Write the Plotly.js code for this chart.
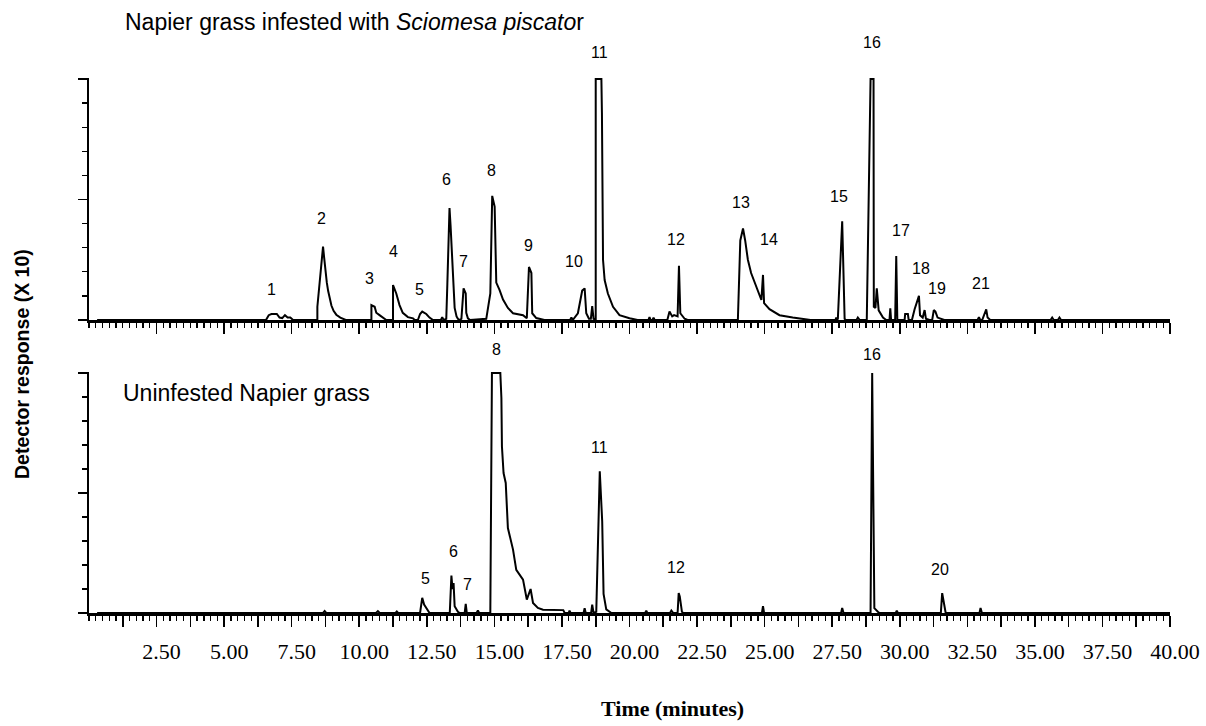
<!DOCTYPE html>
<html>
<head>
<meta charset="utf-8">
<script src="https://cdn.plot.ly/plotly-3.0.1.min.js"></script>
<style>
html,body{margin:0;padding:0;background:#fff;}
#chart{width:1206px;height:726px;}
</style>
</head>
<body>
<div id="chart"></div>
<script>
// ---------- DATA ----------
// Upper chromatogram: Napier grass infested with Sciomesa piscator
const topTime = [0.3, 6.55, 6.65, 6.75, 6.95, 7.05, 7.15, 7.25, 7.35, 7.45, 7.55,
  8.45, 8.45, 8.66, 8.70, 8.75, 8.80, 8.85, 8.90, 8.97, 9.05, 9.15, 9.30, 9.40, 9.50,
  10.45, 10.45, 10.57, 10.63, 10.75, 10.94, 11.0,
  11.25, 11.25, 11.37, 11.49, 11.61, 11.80, 11.99, 12.05,
  12.17, 12.25, 12.33, 12.48, 12.60, 12.73,
  13.02, 13.07, 13.12,
  13.22, 13.26, 13.30, 13.34, 13.38, 13.44, 13.49, 13.53, 13.60, 13.65, 13.72,
  13.78, 13.86, 13.94, 13.96, 14.02, 14.10,
  14.70, 14.85, 14.92, 15.01, 15.05, 15.07, 15.19, 15.32, 15.50, 15.69, 16.06, 16.20,
  16.28, 16.37, 16.40, 16.55, 16.74, 16.85,
  17.80, 17.85, 17.90,
  18.09, 18.25, 18.34, 18.40, 18.50, 18.57, 18.62, 18.67,
  18.75, 18.75, 18.96, 18.98, 19.02, 19.08, 19.20, 19.39, 19.63, 20.00, 20.30,
  20.70, 20.74, 20.78, 20.85, 20.89, 20.93,
  21.40, 21.48, 21.58, 21.65, 21.78, 21.83, 21.88, 22.04, 22.15,
  24.01, 24.10, 24.20, 24.28, 24.38, 24.50, 24.69, 24.88, 24.94, 24.98, 25.18, 25.55, 26.04, 26.54, 26.70,
  27.62, 27.65, 27.68, 27.71, 27.87, 27.96, 28.00,
  28.40, 28.45, 28.52,
  28.78, 28.92, 29.03, 29.04, 29.10, 29.15, 29.22, 29.38, 29.50,
  29.62, 29.65, 29.68, 29.83, 29.87, 29.91, 30.00,
  30.18, 30.20, 30.30, 30.33, 30.45,
  30.55, 30.71, 30.75, 30.85, 30.92, 30.97, 31.10,
  31.20, 31.26, 31.32, 31.40, 31.54, 31.65,
  32.88, 32.93, 32.98, 33.05, 33.20, 33.25, 33.35,
  35.58, 35.64, 35.70, 35.85, 35.91, 35.97, 40.0];
const topResp = [0, 0, 0.2, 0.25, 0.25, 0.1, 0.08, 0.2, 0.1, 0.1, 0,
  0, 0.55, 3.05, 2.6, 2.0, 1.55, 1.2, 0.9, 0.6, 0.38, 0.22, 0.1, 0.05, 0,
  0, 0.62, 0.55, 0.3, 0.2, 0.07, 0,
  0, 1.45, 1.1, 0.62, 0.3, 0.12, 0.07, 0,
  0, 0.25, 0.35, 0.25, 0.1, 0,
  0, 0.12, 0,
  0.05, 1.5, 3.6, 4.65, 3.9, 2.5, 1.3, 0.5, 0.15, 0.05, 0,
  0.05, 1.31, 1.1, 0.3, 0.07, 0,
  0.05, 1.1, 5.15, 4.7, 2.8, 1.55, 1.25, 0.85, 0.5, 0.28, 0.2, 0.07,
  2.2, 1.95, 0.28, 0.08, 0.03, 0,
  0, 0.1, 0,
  0.28, 1.22, 1.31, 0.28, 0.05, 0.05, 0.58, 0.05,
  0, 10, 10, 8.6, 2.5, 1.66, 1.1, 0.55, 0.2, 0.07, 0,
  0, 0.12, 0, 0, 0.1, 0,
  0, 0.35, 0.15, 0.2, 0.15, 2.25, 0.28, 0.05, 0,
  0, 3.3, 3.8, 3.3, 2.5, 1.95, 1.4, 0.83, 1.87, 0.7, 0.45, 0.2, 0.1, 0.03, 0,
  0, 0.1, 0, 0.05, 4.1, 0.05, 0,
  0, 0.1, 0,
  0, 10, 10, 0.55, 0.5, 1.31, 0.4, 0.1, 0,
  0, 0.48, 0, 0, 2.66, 0, 0,
  0, 0.25, 0.25, 0, 0,
  0.45, 1.0, 0.2, 0.1, 0.41, 0.05, 0,
  0, 0.41, 0.35, 0.1, 0.05, 0,
  0, 0.12, 0, 0, 0.44, 0.1, 0,
  0, 0.1, 0, 0, 0.1, 0, 0];

// Lower chromatogram: uninfested Napier grass
const bottomTime = [0.3, 8.66, 8.72, 8.78, 10.62, 10.69, 10.76, 11.34, 11.39, 11.44,
  12.25, 12.33, 12.40, 12.50, 12.60,
  13.35, 13.41, 13.45, 13.49, 13.53, 13.65, 13.72,
  13.90, 13.94, 13.98, 14.34, 14.39, 14.44,
  14.85, 14.91, 15.22, 15.26, 15.28, 15.34, 15.42, 15.50, 15.69, 15.81, 16.06, 16.20, 16.34, 16.43, 16.61, 16.80, 17.55, 17.60,
  17.75, 17.78, 17.82, 18.30, 18.34, 18.38, 18.58, 18.62, 18.67,
  18.77, 18.90, 18.99, 19.04, 19.14, 19.33,
  20.58, 20.62, 20.66, 21.50, 21.55, 21.62,
  21.78, 21.82, 21.86, 21.94, 22.00,
  24.90, 24.94, 24.98, 27.83, 27.87, 27.92,
  28.92, 28.98, 29.04, 29.06, 29.19, 29.25,
  29.85, 29.89, 29.93,
  31.52, 31.57, 31.62, 31.66, 31.70,
  32.95, 32.99, 33.04, 40.0];
const bottomResp = [0, 0, 0.08, 0, 0, 0.08, 0, 0, 0.06, 0,
  0, 0.63, 0.35, 0.2, 0,
  0, 1.56, 1.0, 1.25, 0.28, 0.05, 0,
  0, 0.38, 0, 0, 0.1, 0,
  0, 10, 10, 8.96, 6.94, 5.83, 5.42, 3.54, 2.64, 1.8, 1.39, 0.56, 1.0, 0.42, 0.21, 0.14, 0.12, 0,
  0, 0.1, 0, 0, 0.2, 0, 0, 0.35, 0,
  0.05, 5.9, 3.82, 0.8, 0.15, 0,
  0, 0.1, 0, 0, 0.1, 0,
  0, 0.83, 0.69, 0.05, 0,
  0, 0.28, 0, 0, 0.21, 0,
  0, 10, 1.67, 0.2, 0.05, 0,
  0, 0.1, 0,
  0, 0.83, 0.5, 0.42, 0,
  0, 0.21, 0, 0];

// Peak numbers and where their labels sit (time, response units)
const topPeakNum  = ['1','2','3','4','5','6','7','8','9','10','11','12','13','14','15','16','17','18','19','21'];
const topPeakTime = [6.77, 8.62, 10.38, 11.25, 12.23, 13.22, 13.86, 14.89, 16.28, 17.93, 18.89, 21.71, 24.11, 25.18, 27.75, 28.96, 30.03, 30.80, 31.37, 32.99];
const topPeakResp = [1.27, 4.22, 1.73, 2.86, 1.27, 5.81, 2.42, 6.22, 3.11, 2.42, 11.1, 3.35, 4.87, 3.35, 5.12, 11.5, 3.73, 2.15, 1.32, 1.52];

const bottomPeakNum  = ['5','6','7','8','11','12','16','20'];
const bottomPeakTime = [12.46, 13.47, 14.02, 15.09, 18.90, 21.71, 28.97, 31.50];
const bottomPeakResp = [1.45, 2.58, 1.2, 10.99, 6.9, 1.89, 10.75, 1.82];

// x tick labels (major ticks every 1.25 min, labelled every 2.5 min)
const majorTickVals = [1.25, 2.5, 3.75, 5, 6.25, 7.5, 8.75, 10, 11.25, 12.5, 13.75, 15, 16.25, 17.5, 18.75, 20,
  21.25, 22.5, 23.75, 25, 26.25, 27.5, 28.75, 30, 31.25, 32.5, 33.75, 35, 36.25, 37.5, 38.75, 40];
const majorTickText = ['', '2.50', '', '5.00', '', '7.50', '', '10.00', '', '12.50', '', '15.00', '', '17.50', '', '20.00',
  '', '22.50', '', '25.00', '', '27.50', '', '30.00', '', '32.50', '', '35.00', '', '37.50', '', '40.00'];

const topTitle = 'Napier grass infested with <i>Sciomesa piscato</i>r';
const bottomTitle = 'Uninfested Napier grass';
const xTitle = '<b>Time (minutes)</b>';
const yTitle = '<b>Detector response (X 10)</b>';

// ---------- LAYOUT ----------
const W = 1206, H = 726;
const M = {l: 89, r: 36, t: 78, b: 113};
const PW = W - M.l - M.r, PH = H - M.t - M.b;
const px = x => (x - M.l) / PW;
const py = y => (H - M.b - y) / PH;
const YTOP = 10.04;   // a hair of headroom so the clipped peak tops stay visible
const unit = 24.1;    // pixels per response unit
const headroom = (YTOP - 10) * unit;

const topDomain = [py(320), py(79 - headroom)];
const bottomDomain = [py(613), py(373 - headroom)];
// response value -> paper fraction within a subplot (lets labels sit above the clipped range)
const toPaper = (v, d) => d[0] + (v / YTOP) * (d[1] - d[0]);

const sans = 'Liberation Sans, Arial, sans-serif';
const serif = 'Liberation Serif, Times New Roman, serif';

const lineStyle = {color: '#000', width: 2};

const traces = [
  {x: topTime, y: topResp, xaxis: 'x', yaxis: 'y', type: 'scatter', mode: 'lines', line: lineStyle, hoverinfo: 'x+y'},
  {x: bottomTime, y: bottomResp, xaxis: 'x2', yaxis: 'y2', type: 'scatter', mode: 'lines', line: lineStyle, hoverinfo: 'x+y'}
];

function xAxis(anchor, labels) {
  return {
    anchor: anchor, range: [0, 40], showgrid: false, zeroline: false,
    showline: true, linecolor: '#000', linewidth: 2.5,
    ticks: 'outside', tickmode: 'array', tickvals: majorTickVals, ticktext: majorTickText,
    ticklen: 11, tickwidth: 1.6, tickcolor: '#000',
    showticklabels: labels,
    tickfont: {family: serif, size: 22, color: '#000'},
    ticklabelstandoff: 6, ticklabelshift: 5,
    minor: {tickmode: 'linear', tick0: 0, dtick: 0.25, ticks: 'outside', ticklen: 5, tickwidth: 1.3, tickcolor: '#000'},
    fixedrange: true
  };
}
function yAxis(domain, anchor) {
  return {
    domain: domain, anchor: anchor, range: [0, YTOP], showgrid: false, zeroline: false,
    showline: true, linecolor: '#000', linewidth: 2.5,
    ticks: 'outside', tickmode: 'array', tickvals: [0, 5, 10], ticklen: 9, tickwidth: 1.6, tickcolor: '#000',
    showticklabels: false,
    minor: {tickmode: 'array', tickvals: [1, 2, 3, 4, 6, 7, 8, 9], ticks: 'outside', ticklen: 5, tickwidth: 1.3, tickcolor: '#000'},
    fixedrange: true
  };
}

const annotations = [];
topPeakNum.forEach((n, i) => annotations.push({
  text: n, x: topPeakTime[i], y: toPaper(topPeakResp[i], topDomain), xref: 'x', yref: 'paper', showarrow: false,
  xanchor: 'center', yanchor: 'middle', font: {family: sans, size: 16, color: '#000'}
}));
bottomPeakNum.forEach((n, i) => annotations.push({
  text: n, x: bottomPeakTime[i], y: toPaper(bottomPeakResp[i], bottomDomain), xref: 'x2', yref: 'paper', showarrow: false,
  xanchor: 'center', yanchor: 'middle', font: {family: sans, size: 16, color: '#000'}
}));
annotations.push(
  {text: topTitle, xref: 'paper', yref: 'paper', x: px(123), y: py(22), xanchor: 'left', yanchor: 'middle',
   showarrow: false, font: {family: sans, size: 23, color: '#000'}},
  {text: bottomTitle, xref: 'paper', yref: 'paper', x: px(121), y: py(393), xanchor: 'left', yanchor: 'middle',
   showarrow: false, font: {family: sans, size: 23, color: '#000'}},
  {text: xTitle, xref: 'paper', yref: 'paper', x: px(672), y: py(708), xanchor: 'center', yanchor: 'middle',
   showarrow: false, font: {family: serif, size: 22, color: '#000'}},
  {text: yTitle, xref: 'paper', yref: 'paper', x: px(22), y: py(364), xanchor: 'center', yanchor: 'middle',
   textangle: -90, showarrow: false, font: {family: sans, size: 19.5, color: '#000'}}
);

const layout = {
  width: W, height: H, margin: M, paper_bgcolor: '#fff', plot_bgcolor: '#fff',
  showlegend: false, font: {family: sans, color: '#000'},
  xaxis: xAxis('y', false),
  yaxis: yAxis(topDomain, 'x'),
  xaxis2: xAxis('y2', true),
  yaxis2: yAxis(bottomDomain, 'x2'),
  annotations: annotations
};

Plotly.newPlot('chart', traces, layout, {displayModeBar: false, staticPlot: true});
</script>
</body>
</html>
